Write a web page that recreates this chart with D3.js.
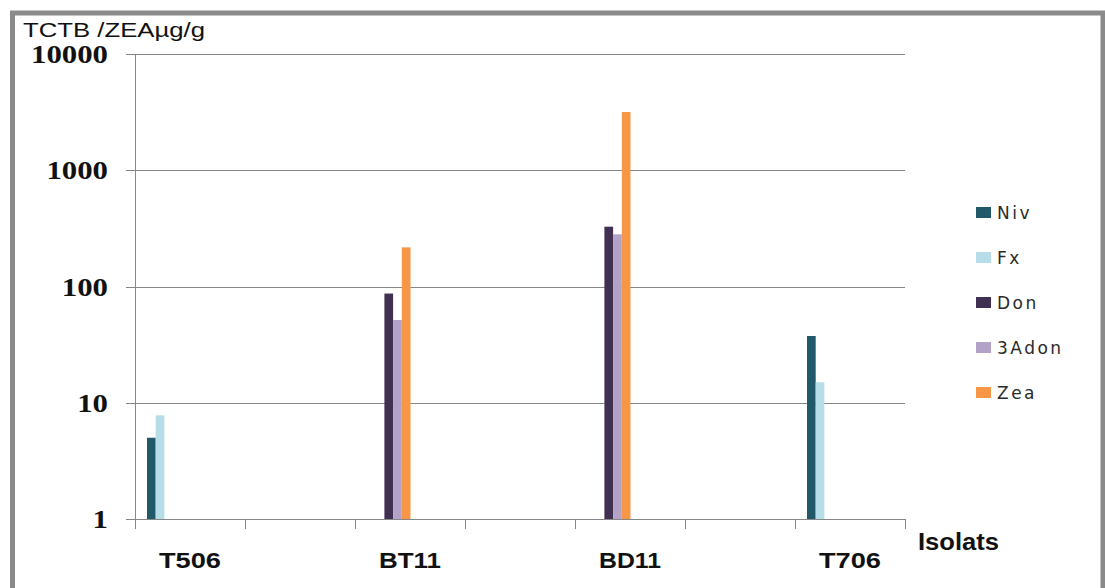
<!DOCTYPE html>
<html>
<head>
<meta charset="utf-8">
<script src="https://cdn.jsdelivr.net/npm/d3@7"></script>
<style>
  html, body { margin: 0; padding: 0; background: #fff; }
  svg { display: block; }
</style>
</head>
<body>
<svg id="chart" width="1105" height="588"></svg>
<script>
// Isolates (x-axis categories)
const categories = ["T506", "BT11", "BD11", "T706"];
// Toxin series, in legend order
const seriesNames = ["Niv", "Fx", "Don", "3Adon", "Zea"];
const seriesColors = ["#215968", "#b7dee8", "#403152", "#b3a2c7", "#f79646"];
// Concentrations (µg/g) per isolate; null = not detected
const nivValues   = [5,    null, null, 37.5];
const fxValues    = [7.8,  null, null, 15];
const donValues   = [null, 87,   327,  null];
const adon3Values = [null, 51.5, 281,  null];
const zeaValues   = [null, 217,  3170, null];
// Log axis ticks
const yTickValues = [1, 10, 100, 1000, 10000];

const seriesValues = [nivValues, fxValues, donValues, adon3Values, zeaValues];

const svg = d3.select("#chart");

// Outer frame
svg.append("rect")
  .attr("x", 12.5).attr("y", 13)
  .attr("width", 1090.5).attr("height", 600)
  .attr("fill", "#fff")
  .attr("stroke", "#8a8a8a").attr("stroke-width", 5);

const plotLeft = 135, plotRight = 905, plotTop = 54, plotBottom = 519;

const y = d3.scaleLog().domain([1, 10000]).range([plotBottom, plotTop]);
const x = d3.scalePoint().domain(categories).range([plotLeft, plotRight]).padding(0.25);
const step = x.step();
const x1 = d3.scaleBand().domain(seriesNames).range([-43, 0.5]);

const gridColor = "#878787";

// Horizontal gridlines + y ticks
svg.append("g")
  .attr("transform", `translate(${plotRight},0)`)
  .call(d3.axisLeft(y).tickValues(yTickValues).tickSize(plotRight - plotLeft + 9).tickFormat(""))
  .call(g => g.select(".domain").remove())
  .call(g => g.selectAll("line").attr("stroke", gridColor).attr("stroke-width", 1)
    .attr("shape-rendering", "crispEdges"));

// Y axis line
svg.append("line")
  .attr("x1", plotLeft).attr("x2", plotLeft)
  .attr("y1", plotTop).attr("y2", plotBottom)
  .attr("stroke", gridColor).attr("shape-rendering", "crispEdges");

// Y tick labels
svg.append("g").selectAll("text")
  .data(yTickValues)
  .join("text")
  .attr("x", 108)
  .attr("y", d => y(d))
  .attr("dy", "0.36em")
  .attr("text-anchor", "end")
  .attr("font-family", "'Liberation Serif', 'DejaVu Serif', serif")
  .attr("font-weight", "bold")
  .attr("font-size", 25)
  .attr("fill", "#111")
  .attr("textLength", d => String(d).length * 15.4)
  .attr("lengthAdjust", "spacingAndGlyphs")
  .text(d => d);

// X axis: baseline and category ticks
svg.append("line")
  .attr("x1", plotLeft).attr("x2", plotRight)
  .attr("y1", plotBottom).attr("y2", plotBottom)
  .attr("stroke", gridColor).attr("shape-rendering", "crispEdges");

const xTickPositions = [];
categories.forEach(c => { xTickPositions.push(x(c) - step / 4, x(c) + step / 4); });
svg.append("g").selectAll("line")
  .data(xTickPositions)
  .join("line")
  .attr("x1", d => Math.round(d) + 0.5).attr("x2", d => Math.round(d) + 0.5)
  .attr("y1", plotBottom).attr("y2", plotBottom + 10)
  .attr("stroke", gridColor);

// Category labels
svg.append("g").selectAll("text")
  .data(categories)
  .join("text")
  .attr("x", d => x(d))
  .attr("y", 568)
  .attr("text-anchor", "middle")
  .attr("font-family", "'Liberation Sans', Arial, sans-serif")
  .attr("font-weight", "bold")
  .attr("font-size", 22)
  .attr("fill", "#111")
  .attr("textLength", 62)
  .attr("lengthAdjust", "spacingAndGlyphs")
  .text(d => d);

// Bars
const barData = [];
seriesNames.forEach((s, i) => {
  categories.forEach((c, j) => {
    const v = seriesValues[i][j];
    if (v != null) barData.push({ series: s, color: seriesColors[i], cat: c, value: v });
  });
});
svg.append("g").selectAll("rect")
  .data(barData)
  .join("rect")
  .attr("x", d => x(d.cat) + x1(d.series))
  .attr("width", x1.bandwidth())
  .attr("y", d => y(d.value))
  .attr("height", d => y(1) - y(d.value))
  .attr("fill", d => d.color);

// Axis titles
svg.append("text")
  .attr("x", 23).attr("y", 37)
  .attr("font-family", "'Liberation Sans', Arial, sans-serif")
  .attr("font-size", 21)
  .attr("fill", "#111")
  .attr("textLength", 182)
  .attr("lengthAdjust", "spacingAndGlyphs")
  .text("TCTB /ZEAµg/g");

svg.append("text")
  .attr("x", 918).attr("y", 550)
  .attr("font-family", "'Liberation Sans', Arial, sans-serif")
  .attr("font-weight", "bold")
  .attr("font-size", 23)
  .attr("fill", "#111")
  .attr("textLength", 81)
  .attr("lengthAdjust", "spacingAndGlyphs")
  .text("Isolats");

// Legend
const legend = svg.append("g").selectAll("g")
  .data(seriesNames)
  .join("g")
  .attr("transform", (d, i) => `translate(976, ${213 + i * 45})`);
legend.append("rect")
  .attr("x", 0).attr("y", -6)
  .attr("width", 15).attr("height", 11)
  .attr("fill", (d, i) => seriesColors[i]);
legend.append("text")
  .attr("x", 21).attr("y", 0)
  .attr("dy", "0.36em")
  .attr("font-family", "'DejaVu Sans', Verdana, sans-serif")
  .attr("font-size", 17)
  .attr("letter-spacing", 2.5)
  .attr("fill", "#2a2a2a")
  .text(d => d);
</script>
</body>
</html>
